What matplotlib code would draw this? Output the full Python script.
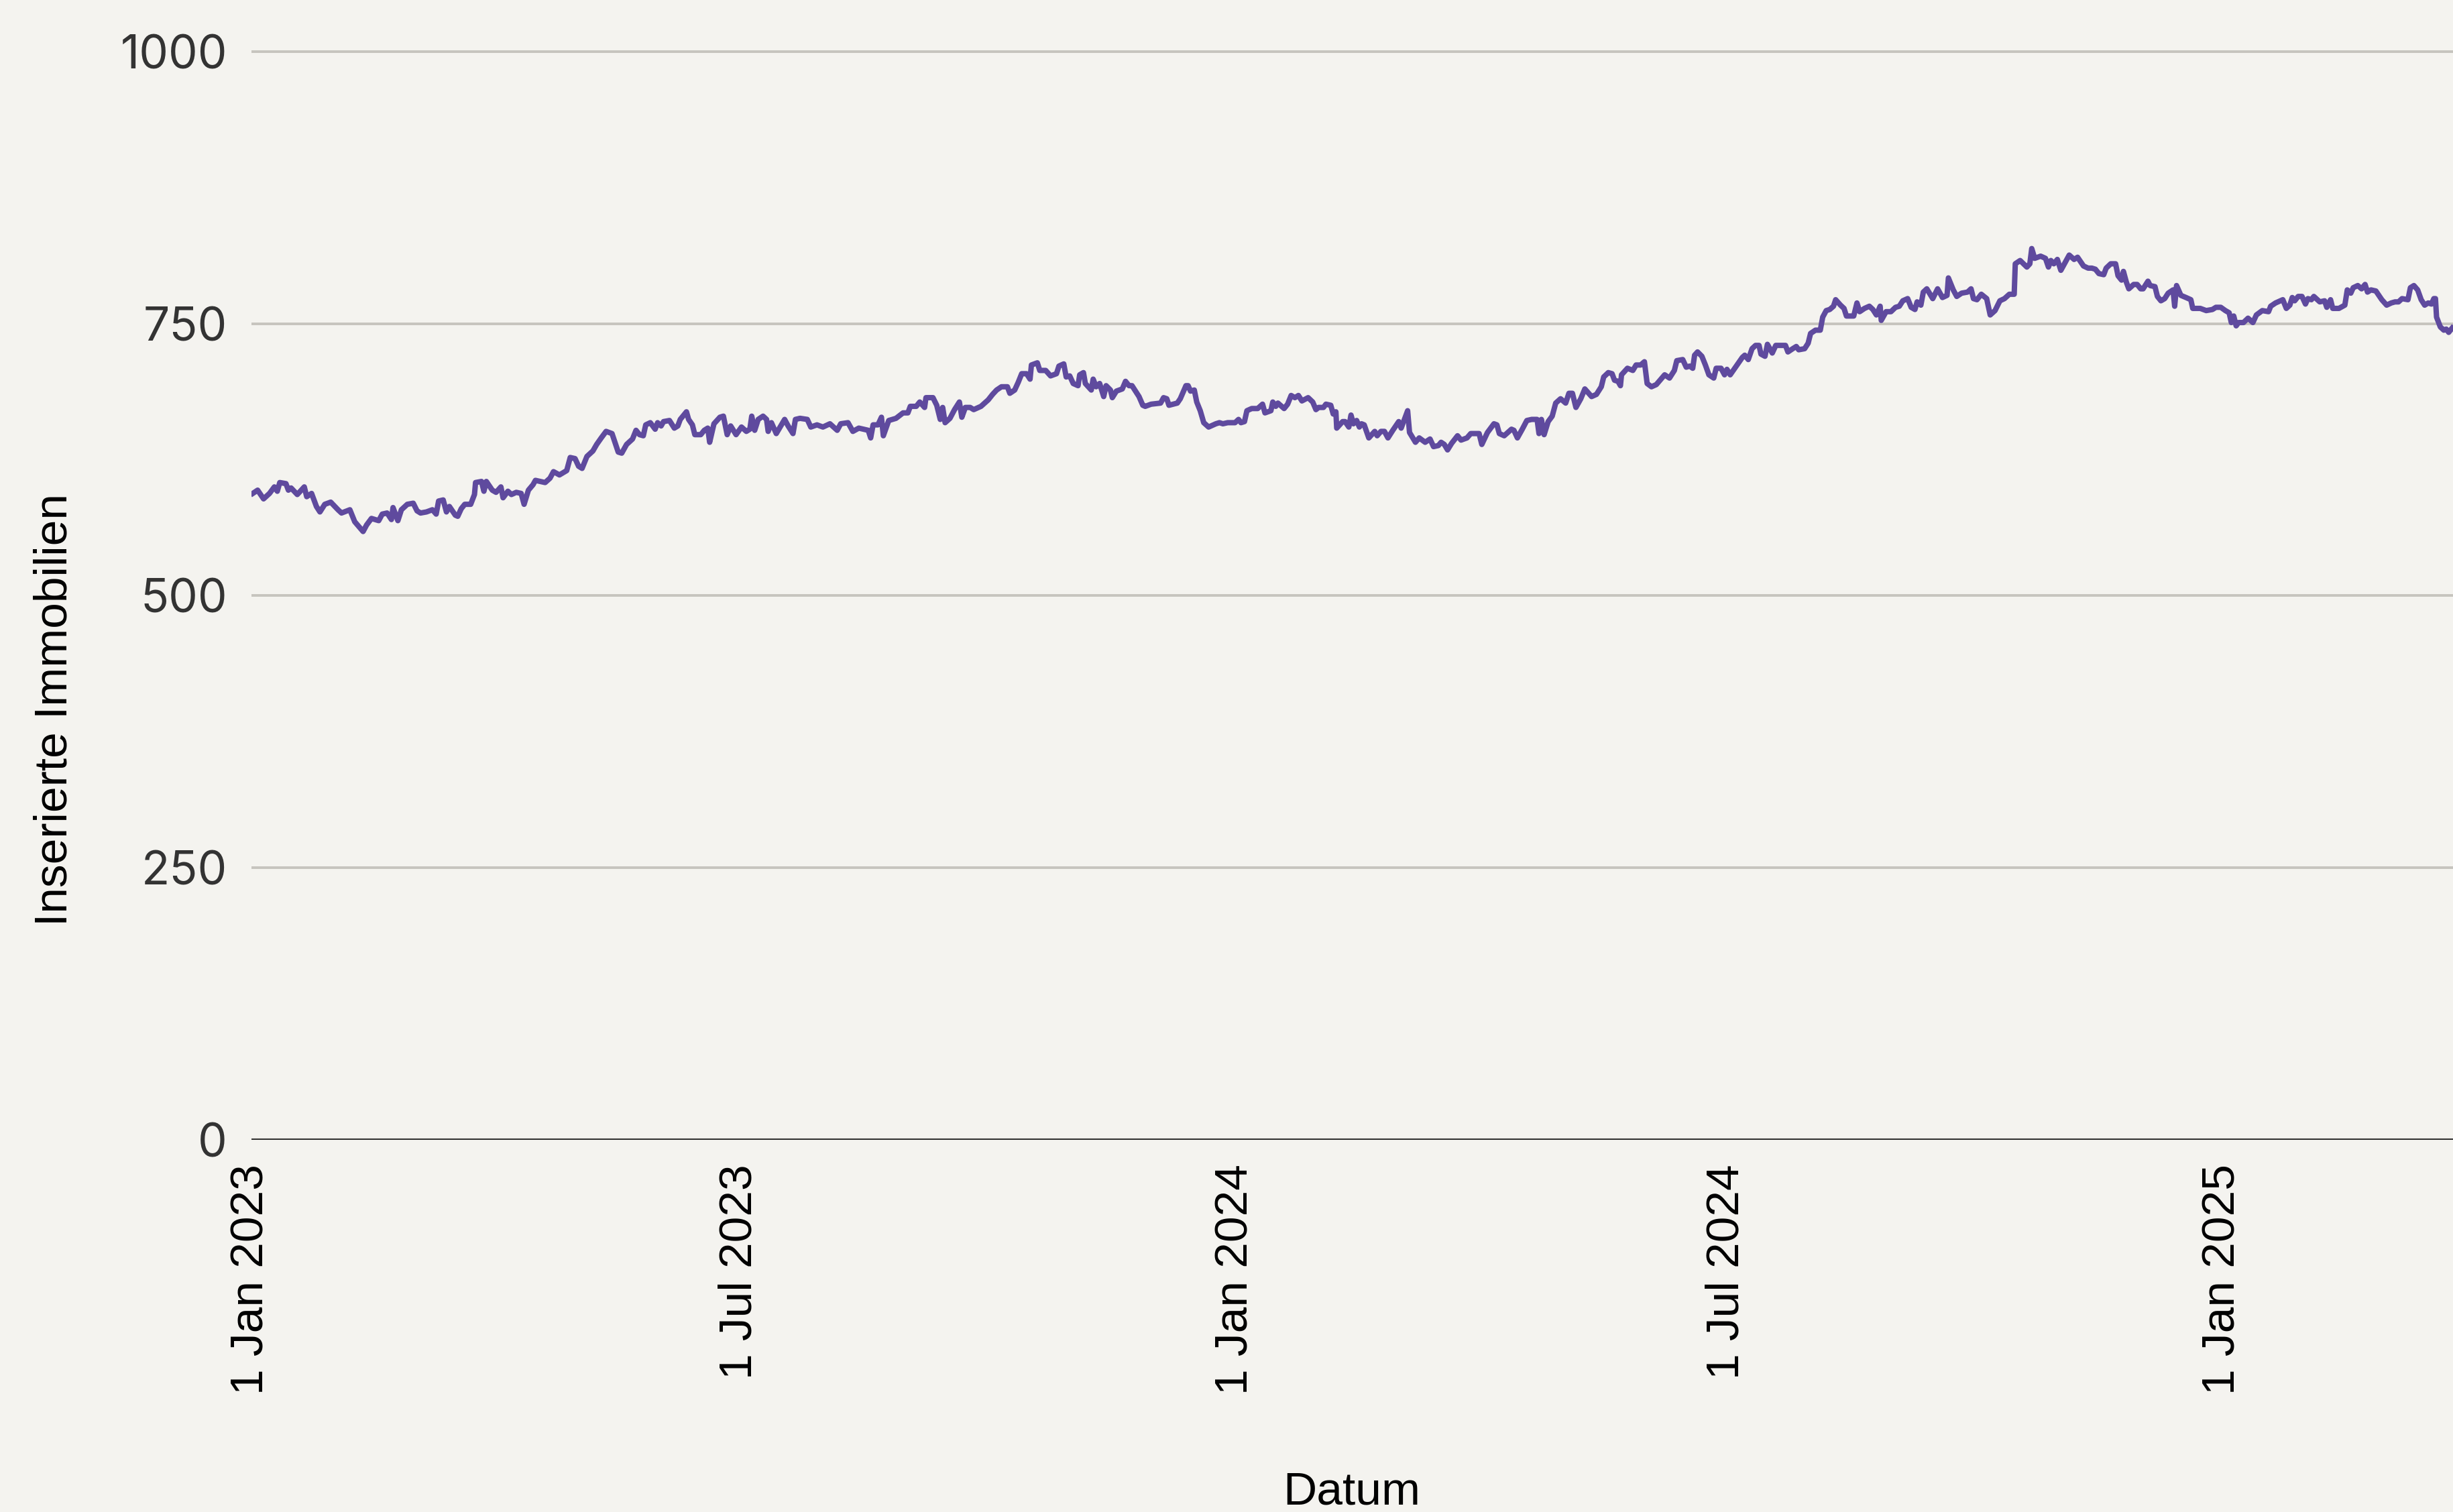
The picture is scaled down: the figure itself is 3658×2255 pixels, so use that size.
import numpy as np
import matplotlib
matplotlib.use("Agg")
import matplotlib.pyplot as plt
import matplotlib.dates as mdates

plt.rcParams["font.family"] = ["Liberation Sans", "DejaVu Sans"]

# days since 1 Jan 2023
day_offset = [
    0.5, 2.3, 4.5, 6.7, 8.5, 9.6, 10.5, 12.8, 13.7, 14.7,
    17.0, 19.6, 20.5, 22.3, 24.1, 25.4, 27.2, 29.4, 32.1, 33.4,
    36.5, 38.3, 41.4, 42.7, 44.5, 47.2, 48.5, 50.3, 51.9, 52.5,
    54.3, 55.6, 57.8, 60.0, 61.4, 62.7, 64.9, 67.1, 68.5, 69.4,
    71.1, 72.3, 73.4, 75.6, 76.5, 77.8, 79.1, 81.3, 82.7, 83.1,
    85.3, 86.2, 87.1, 89.3, 90.7, 92.5, 93.3, 95.1, 96.4, 98.2,
    100.0, 101.1, 102.7, 104.4, 105.3, 108.9, 110.7, 112.0, 114.2, 116.9,
    118.2, 120.0, 121.3, 122.6, 124.4, 126.6, 128.0, 129.7, 131.5, 133.7,
    136.0, 137.3,
    139.1, 141.3, 142.6, 143.9, 145.3, 146.2, 147.9, 149.7, 150.6, 151.9,
    152.8, 155.0, 156.8, 158.1, 159.0, 161.3, 162.1, 163.5, 164.4, 166.6,
    167.9, 169.2, 169.9, 171.5, 173.7, 175.0, 176.4, 177.7, 179.7, 181.7,
    183.5, 184.8, 185.5, 186.6, 187.9, 189.7, 191.0, 191.6, 192.8, 194.6,
    197.7, 199.0, 200.8, 201.7, 203.4, 206.1, 207.4, 209.7, 211.9, 214.5,
    217.2, 218.5, 221.2, 223.0, 225.2, 228.7, 229.6, 230.5, 232.3, 233.6,
    234.3, 236.3, 239.0, 241.6, 243.4, 244.3, 246.5, 247.8, 249.6, 250.1,
    252.7, 254.1, 255.4, 256.3, 257.2, 259.0, 260.7, 262.5, 263.4, 264.7,
    266.5, 267.8, 270.5, 273.2, 274.8,
    276.3, 278.1, 280.3, 281.2, 283.0, 284.3, 285.6, 287.4, 288.7, 289.2,
    291.4, 292.3, 294.5, 296.3, 298.5, 299.4, 301.2, 302.1, 303.4, 304.7,
    306.5, 307.1, 308.5, 309.2, 311.4, 312.1, 313.2, 314.5, 316.0, 316.9,
    318.5, 319.2, 320.7, 322.9, 324.1, 325.4, 326.5, 327.8, 329.1, 330.5,
    331.4, 333.6, 337.1, 338.2, 339.4, 340.2, 343.3, 344.4, 346.5, 347.3,
    348.2, 349.6, 350.5, 351.8, 353.1, 354.9, 357.6, 358.9, 360.2, 362.0,
    364.7, 366.0, 366.9, 368.2, 369.1, 370.9, 373.1, 374.9, 375.8, 378.0,
    378.7, 379.8, 380.6, 382.9, 384.2, 385.5, 386.9, 388.2, 389.5, 391.8,
    393.5, 394.7, 395.7, 397.5, 398.4, 400.2, 401.1, 402.1, 402.4, 404.6,
    405.5, 406.9, 407.7, 408.6, 409.8, 410.8, 411.6,
    412.6, 414.3, 416.5, 417.4, 418.8, 420.1, 421.4, 423.2, 425.4, 426.3,
    428.7, 429.4, 431.6, 433.0, 435.2, 437.0, 438.3, 440.1, 441.1, 442.3,
    443.5, 445.0, 447.2, 448.5, 450.7, 452.1, 454.3, 455.2, 456.2, 458.3,
    460.7, 461.8, 462.7, 464.5, 467.2, 468.1, 469.4, 471.2, 472.9, 474.7,
    476.7, 477.4, 478.3, 479.3, 480.8, 482.3, 483.6, 485.4, 487.3, 488.5,
    489.8, 491.1, 492.9, 494.4, 496.9, 498.7, 500.5, 501.4, 503.1, 504.5,
    505.4, 506.7, 507.6, 508.0, 510.2, 512.2, 513.4, 515.1, 516.5, 517.5,
    519.1, 520.9, 524.0, 525.8, 527.6, 528.5, 530.7, 532.0, 533.3, 534.4,
    535.1, 536.2, 537.8, 539.1, 540.4, 542.2, 543.1, 544.9, 546.2, 547.1,
    548.3,
    552.8, 553.7, 555.0, 556.4, 557.7, 559.0, 559.7, 561.2, 562.1, 563.9,
    565.2, 568.8, 569.7, 571.5, 572.8, 573.7, 575.9, 577.2, 578.1, 579.9,
    581.7, 582.6, 583.9, 585.2, 586.6, 587.4, 589.2, 590.5, 591.4, 594.1,
    595.3, 596.3, 598.1, 599.9, 601.2, 602.5, 603.9, 604.3, 606.1, 607.9,
    609.6, 611.0, 612.3, 614.1, 615.4, 616.8, 617.6, 619.0, 619.9, 621.2,
    623.4, 625.2, 627.0, 628.7, 629.2, 631.0, 632.3, 634.1, 636.3, 637.6,
    638.5, 639.8, 641.4, 643.4, 644.7, 646.5, 648.3, 650.0, 651.8, 653.6,
    654.0, 655.8, 658.3, 659.4, 660.1, 661.2, 663.4, 665.2, 666.3, 667.2,
    668.3, 669.6, 670.9, 674.0, 675.8, 677.1,
    679.3, 681.0, 682.4, 683.7, 685.0, 686.8, 687.7, 689.4, 691.2, 692.1,
    693.4, 694.1, 695.2, 696.1, 697.9, 699.2, 700.5, 701.4, 703.2, 704.0,
    705.8, 706.7, 708.0, 709.4, 710.7, 712.5, 713.1, 713.8, 715.4, 717.3,
    719.1, 719.8, 722.6, 724.8, 727.1, 728.4, 730.2, 731.9, 733.3, 734.1,
    735.0, 735.9, 736.8, 738.6, 740.3, 742.1, 743.4, 745.6, 747.9, 748.7,
    750.5, 753.2, 754.5, 755.8, 756.7, 757.6, 758.9, 760.3, 761.6, 762.5,
    763.8, 764.7, 766.9, 768.7, 769.5, 770.9, 771.7, 774.0, 776.2, 777.1,
    778.4, 779.3, 781.0, 782.4, 783.7, 784.6, 785.9, 787.7, 789.9, 791.7,
    793.4, 794.8, 796.1, 797.4, 799.6, 800.5, 801.8, 803.2, 804.5, 805.8,
    807.1, 808.3, 809.2, 809.8, 810.2, 811.6, 812.9, 813.8, 814.7, 816.0,
]

listings = [
    594, 597, 589, 594, 600, 596, 604, 603, 597, 599,
    593, 600, 591, 594, 582, 577, 584, 586, 579, 576,
    579, 568, 559, 565, 571, 569, 575, 576, 570, 581,
    569, 579, 584, 585, 578, 576, 577, 579, 575, 587,
    588, 577, 582, 574, 573, 580, 584, 584, 593, 604,
    605, 596, 605, 597, 595, 600, 590, 596, 593, 595,
    594, 584, 597, 602, 606, 604, 608, 614, 611, 615,
    627, 626, 619, 617, 628, 633, 639, 645, 651, 649,
    632, 631,
    639, 644, 652, 648, 647, 657, 659, 653, 659, 656,
    660, 661, 654, 656, 662, 669, 662, 657, 648, 648,
    652, 654, 641, 658, 664, 665, 648, 656, 648, 655,
    651, 653, 665, 652, 662, 665, 662, 651, 659, 649,
    662, 656, 649, 662, 663, 662, 655, 657, 655, 658,
    652, 658, 659, 651, 654, 652, 645, 657, 657, 664,
    647, 661, 663, 668, 668, 674, 674, 678, 673, 682,
    682, 675, 662, 673, 659, 663, 671, 678, 664, 673,
    673, 671, 674, 680, 685,
    689, 692, 692, 686, 689, 696, 704, 704, 699, 712,
    714, 707, 707, 702, 704, 711, 713, 701, 702, 695,
    693, 703, 705, 695, 689, 699, 692, 695, 683, 693,
    689, 682, 688, 690, 697, 693, 693, 688, 683, 675,
    674, 676, 677, 682, 681, 675, 677, 681, 693, 693,
    688, 689, 678, 670, 659, 655, 658, 659, 658, 659,
    659, 662, 659, 660, 670, 672, 672, 676, 668, 670,
    678, 674, 677, 672, 676, 684, 682, 684, 679, 682,
    678, 671, 673, 673, 676, 675, 667, 669, 654, 660,
    660, 655, 666, 658, 661, 655, 658,
    657, 645, 651, 647, 651, 651, 645, 652, 660, 654,
    670, 650, 641, 645, 641, 644, 637, 638, 641, 639,
    634, 640, 647, 643, 645, 649, 649, 649, 639, 650,
    658, 657, 649, 647, 653, 652, 645, 653, 661, 662,
    662, 649, 662, 648, 660, 665, 677, 681, 677, 686,
    686, 673, 681, 690, 683, 685, 692, 701, 705, 704,
    698, 697, 693, 703, 709, 707, 712, 712, 715, 695,
    692, 694, 703, 700, 707, 716, 717, 710, 711, 709,
    721, 724, 720, 712, 703, 700, 709, 709, 703, 708,
    703,
    719, 721, 717, 727, 730, 730, 722, 720, 731, 723,
    730, 730, 724, 727, 729, 726, 727, 732, 741, 744,
    744, 756, 762, 763, 766, 772, 767, 764, 757, 757,
    769, 761, 764, 766, 763, 758, 766, 753, 761, 761,
    765, 766, 771, 773, 765, 763, 770, 767, 779, 782,
    773, 782, 774, 776, 792, 781, 775, 778, 779, 782,
    773, 772, 777, 773, 758, 762, 771, 773, 777, 777,
    805, 808, 802, 805, 819, 810, 812, 810, 802, 808,
    805, 809, 799, 813, 809, 811,
    803, 801, 801, 800, 796, 795, 801, 805, 805, 794,
    790, 798, 788, 782, 786, 786, 782, 782, 789, 785,
    784, 775, 771, 773, 778, 781, 766, 785, 776, 774,
    772, 764, 764, 762, 763, 765, 765, 762, 760, 751,
    757, 748, 751, 751, 755, 751, 758, 762, 761, 766,
    769, 772, 764, 767, 774, 771, 775, 775, 768, 773,
    772, 775, 770, 771, 765, 772, 764, 764, 767, 781,
    778, 783, 785, 782, 786, 779, 781, 780, 772, 767,
    769, 770, 770, 773, 772, 783, 785, 781, 772, 767,
    769, 768, 773, 773, 756, 747, 744, 745, 742, 746,
]

tick_dates = ["2023-01-01", "2023-07-01", "2024-01-01", "2024-07-01", "2025-01-01"]
tick_labels = ["1 Jan 2023", "1 Jul 2023", "1 Jan 2024", "1 Jul 2024", "1 Jan 2025"]
y_ticks = [0, 250, 500, 750, 1000]

assert len(day_offset) == len(listings)

bg = "#f4f3ef"
start = mdates.date2num(np.datetime64("2023-01-01"))
x = start + np.array(day_offset)

fig = plt.figure(figsize=(18.29, 11.275), dpi=200, facecolor=bg)
ax = fig.add_axes([0.1025, 0.2461, 0.8975, 0.7270])
ax.set_facecolor(bg)

ax.plot(x, listings, color="#5f4a9e", lw=2.9, solid_joinstyle="round", zorder=3)

ax.set_xlim(start, start + 816.3)
ax.set_ylim(0, 1010)

ax.set_yticks(y_ticks)
ax.set_yticklabels([str(v) for v in y_ticks], family=["Inter", "DejaVu Sans"],
                   fontsize=25, color="#333333")
ax.set_xticks([mdates.date2num(np.datetime64(d)) for d in tick_dates])
ax.set_xticklabels(tick_labels, rotation=90, fontsize=25, color="black")
ax.tick_params(axis="both", length=0)
ax.tick_params(axis="y", pad=13)
ax.tick_params(axis="x", pad=13)

for v in y_ticks[1:]:
    ax.axhline(v, color="#c6c4be", lw=1.4, zorder=1)
ax.axhline(0, color="#333333", lw=1.5, zorder=2)

for s in ax.spines.values():
    s.set_visible(False)

fig.text(82 / 3658, 1 - 1058 / 2255, "Inserierte Immobilien", rotation=90,
         ha="center", va="center", fontsize=25, color="black")
fig.text(2016 / 3658, 1 - 2244 / 2255, "Datum", ha="center", va="baseline",
         fontsize=25, color="black")

fig.savefig("out.png", dpi=200, facecolor=bg)
